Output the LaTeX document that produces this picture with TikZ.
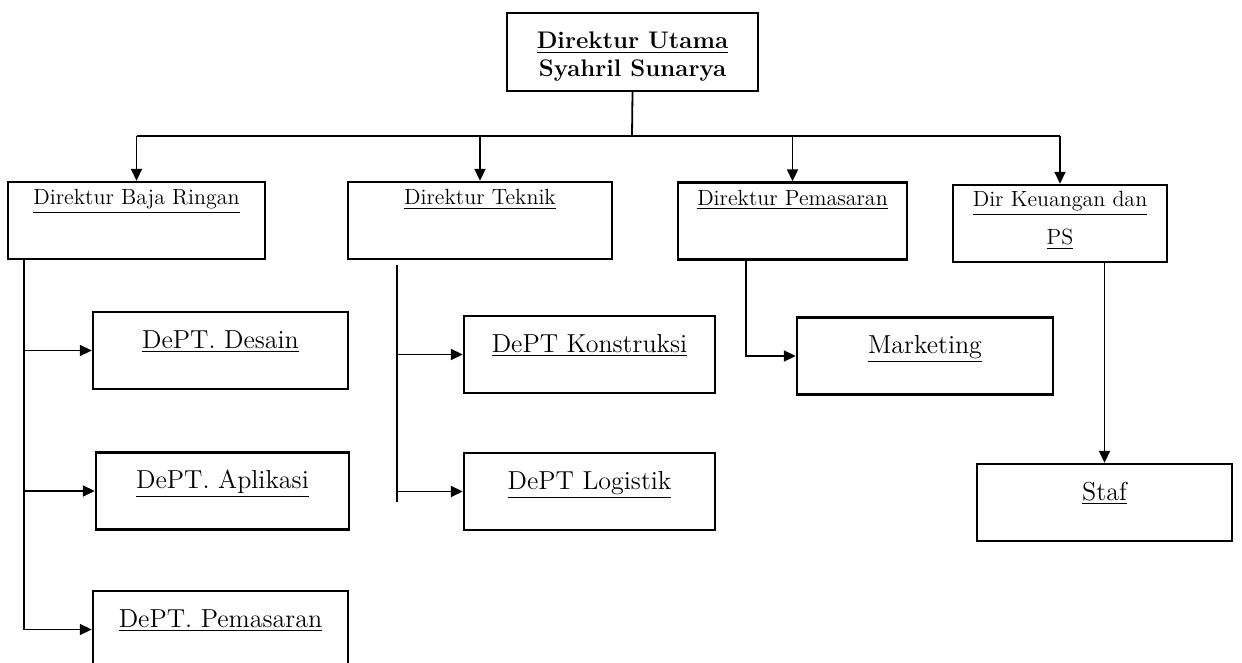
\documentclass[tikz,border=0pt]{standalone}
\usetikzlibrary{arrows.meta, positioning}
\tikzstyle{unit} = [rectangle, 
			draw, 
			line width = 1.2pt, 
			inner sep = 0pt, 
			text centered]
\tikzstyle{chief} = [unit, 
			align = center, 
			font = \bfseries\fontsize{12}{14}\selectfont, 
			text height = 32pt, 
			text depth = 7pt]
\tikzstyle{head} = [unit, 
			font = \fontsize{11}{13}\selectfont, 
			text height = 11.5pt, 
			text depth = 27pt]
\tikzstyle{dept} = [unit, 
			font = \fontsize{13}{15}\selectfont, 
			text height = 18pt, 
			text depth = 20.5pt]
\tikzstyle{line} = [draw, line width = 0.9pt, -{Triangle[length=6pt, width=5.5pt]}]

\begin{document}
\begin{tikzpicture}[x = 0.5pt, y = -0.5pt]
	\clip (0,0) rectangle (1242,663);
	% direksi
	\node [chief, minimum width = 125.5pt] (utama) at (632.5,52) {\underline{Direktur Utama}\\Syahril Sunarya};
	\node [head, minimum width = 128.5pt] (baja) at (136.5,220.5) {\underline{Direktur Baja Ringan}};
	\node [head, minimum width = 132pt] (teknik) at (480,220.5) {\underline{Direktur Teknik}};
	\node [head, minimum width = 114.5pt] (pemasaran) at (792.5,221) {\underline{Direktur Pemasaran}};
	\node [head, align = center, minimum width = 107pt, text height = 30pt, text depth = 8.5pt] (keuangan) at (1060,223.5) {\underline{Dir Keuangan dan}\\[6pt]\underline{PS}};
	% departemen
	\node [dept, minimum width = 127.5pt] (desain) at (220.5,350.5) {\underline{DePT. Desain}};
	\node [dept, minimum width = 126.5pt] (aplikasi) at (222.5,491) {\underline{DePT. Aplikasi}};
	\node [dept, minimum width = 127.5pt] (deptPemasaran) at (220.5,629.5) {\underline{DePT. Pemasaran}};
	\node [dept, minimum width = 125.5pt] (konstruksi) at (589.5,354.5) {\underline{DePT Konstruksi}};
	\node [dept, minimum width = 125.5pt] (logistik) at (589.5,491.5) {\underline{DePT Logistik}};
	\node [dept, minimum width = 128pt] (marketing) at (925,356) {\underline{Marketing}};
	\node [dept, minimum width = 127.5pt] (staf) at (1104.5,502.5) {\underline{Staf}};
	% garis
	\coordinate (bar) at (632,136);
	\draw [line width = 0.9pt] (utama.south) -- (bar);
	\draw [line width = 0.9pt] (baja.north |- bar) -- (keuangan.north |- bar);
	\foreach \n in {baja, teknik, pemasaran, keuangan}
		\path [line] (\n.north |- bar) -- (\n.north);
	\path [line] ([xshift = 8.5pt]baja.south west) |- (desain.west);
	\path [line] ([xshift = 8.5pt]baja.south west) |- (aplikasi.west);
	\path [line] ([xshift = 8.5pt]baja.south west) |- (deptPemasaran.west);
	\coordinate (tkTop) at (397,265);
	\coordinate (tkEnd) at (397,502);
	\draw [line width = 0.9pt] (tkTop) -- (tkEnd);
	\path [line] (tkTop) |- (konstruksi.west);
	\path [line] (tkTop) |- (logistik.west);
	\path [line] ([xshift = 34.5pt]pemasaran.south west) |- (marketing.west);
	\path [line] (keuangan.south -| staf.north) -- (staf.north);
\end{tikzpicture}
\end{document}
